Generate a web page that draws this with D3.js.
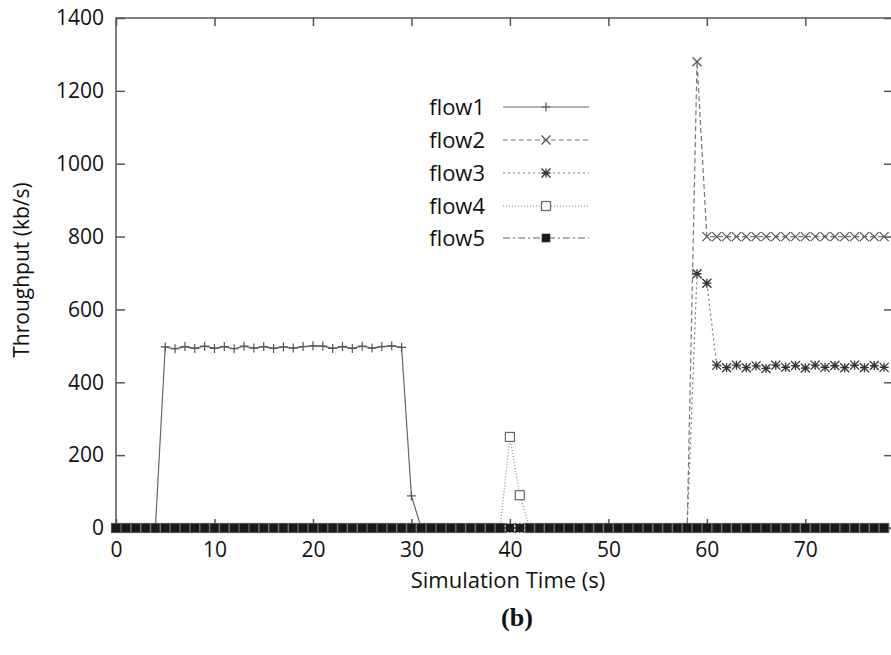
<!DOCTYPE html>
<html>
<head>
<meta charset="utf-8">
<script src="https://cdn.jsdelivr.net/npm/d3@7"></script>
<style>
body { margin: 0; background: #fff; }
text { font-family: "Open Sans", sans-serif; fill: #111; }
</style>
</head>
<body>
<script>
// simulation seconds 0..78
var times = [
  0, 1, 2, 3, 4, 5, 6, 7, 8, 9,
  10, 11, 12, 13, 14, 15, 16, 17, 18, 19,
  20, 21, 22, 23, 24, 25, 26, 27, 28, 29,
  30, 31, 32, 33, 34, 35, 36, 37, 38, 39,
  40, 41, 42, 43, 44, 45, 46, 47, 48, 49,
  50, 51, 52, 53, 54, 55, 56, 57, 58, 59,
  60, 61, 62, 63, 64, 65, 66, 67, 68, 69,
  70, 71, 72, 73, 74, 75, 76, 77, 78
];

var flow1 = [
  0, 0, 0, 0, 0, 497, 492, 498, 493, 499,
  493, 498, 492, 499, 494, 498, 493, 497, 494, 498,
  500, 499, 493, 498, 493, 499, 494, 498, 500, 496,
  88, 0, 0, 0, 0, 0, 0, 0, 0, 0,
  0, 0, 0, 0, 0, 0, 0, 0, 0, 0,
  0, 0, 0, 0, 0, 0, 0, 0, 0, 0,
  0, 0, 0, 0, 0, 0, 0, 0, 0, 0,
  0, 0, 0, 0, 0, 0, 0, 0, 0
];
var flow2 = [
  0, 0, 0, 0, 0, 0, 0, 0, 0, 0,
  0, 0, 0, 0, 0, 0, 0, 0, 0, 0,
  0, 0, 0, 0, 0, 0, 0, 0, 0, 0,
  0, 0, 0, 0, 0, 0, 0, 0, 0, 0,
  0, 0, 0, 0, 0, 0, 0, 0, 0, 0,
  0, 0, 0, 0, 0, 0, 0, 0, 0, 1280,
  800, 800, 800, 800, 800, 800, 800, 800, 800, 800,
  800, 800, 800, 800, 800, 800, 800, 800, 800
];
var flow3 = [
  0, 0, 0, 0, 0, 0, 0, 0, 0, 0,
  0, 0, 0, 0, 0, 0, 0, 0, 0, 0,
  0, 0, 0, 0, 0, 0, 0, 0, 0, 0,
  0, 0, 0, 0, 0, 0, 0, 0, 0, 0,
  0, 0, 0, 0, 0, 0, 0, 0, 0, 0,
  0, 0, 0, 0, 0, 0, 0, 0, 0, 698,
  672, 447, 440, 447, 440, 445, 438, 447, 441, 446,
  439, 447, 441, 446, 440, 447, 440, 446, 441
];
var flow4 = [
  0, 0, 0, 0, 0, 0, 0, 0, 0, 0,
  0, 0, 0, 0, 0, 0, 0, 0, 0, 0,
  0, 0, 0, 0, 0, 0, 0, 0, 0, 0,
  0, 0, 0, 0, 0, 0, 0, 0, 0, 0,
  250, 90, 0, 0, 0, 0, 0, 0, 0, 0,
  0, 0, 0, 0, 0, 0, 0, 0, 0, 0,
  0, 0, 0, 0, 0, 0, 0, 0, 0, 0,
  0, 0, 0, 0, 0, 0, 0, 0, 0
];
var flow5 = [
  0, 0, 0, 0, 0, 0, 0, 0, 0, 0,
  0, 0, 0, 0, 0, 0, 0, 0, 0, 0,
  0, 0, 0, 0, 0, 0, 0, 0, 0, 0,
  0, 0, 0, 0, 0, 0, 0, 0, 0, 0,
  0, 0, 0, 0, 0, 0, 0, 0, 0, 0,
  0, 0, 0, 0, 0, 0, 0, 0, 0, 0,
  0, 0, 0, 0, 0, 0, 0, 0, 0, 0,
  0, 0, 0, 0, 0, 0, 0, 0, 0
];

var seriesNames = ["flow1", "flow2", "flow3", "flow4", "flow5"];
var seriesValues = [flow1, flow2, flow3, flow4, flow5];
var xTicks = [0, 10, 20, 30, 40, 50, 60, 70];
var yTicks = [0, 200, 400, 600, 800, 1000, 1200, 1400];

var W = 891, H = 655;
// right frame edge sits just past the picture edge, as in the cropped original
var mL = 116, mR = 892, mT = 18, mB = 528;

var svg = d3.select("body").append("svg")
    .attr("width", W)
    .attr("height", H);

var x = d3.scaleLinear().domain([0, 78.8]).range([mL, mR]);
var y = d3.scaleLinear().domain([0, 1400]).range([mB, mT]);

// frame
svg.append("rect")
    .attr("x", mL).attr("y", mT)
    .attr("width", mR - mL).attr("height", mB - mT)
    .attr("fill", "none")
    .attr("stroke", "#555")
    .attr("stroke-width", 1.5);

function styleAxis(g) {
    g.select(".domain").remove();
    g.selectAll(".tick line").attr("stroke", "#555").attr("stroke-width", 1.5);
    g.selectAll(".tick text")
        .attr("fill", "#111")
        .style("font-family", "'Open Sans', sans-serif")
        .style("font-size", "21px");
}

svg.append("g")
    .attr("transform", "translate(0," + mB + ")")
    .call(d3.axisBottom(x).tickValues(xTicks).tickSize(-9).tickPadding(14))
    .call(styleAxis);

svg.append("g")
    .attr("transform", "translate(0," + mT + ")")
    .call(d3.axisTop(x).tickValues(xTicks).tickSize(-8).tickFormat(""))
    .call(styleAxis);

svg.append("g")
    .attr("transform", "translate(" + mL + ",0)")
    .call(d3.axisLeft(y).tickValues(yTicks).tickFormat(d3.format("d")).tickSize(-9).tickPadding(12))
    .call(styleAxis);

svg.append("g")
    .attr("transform", "translate(" + mR + ",0)")
    .call(d3.axisRight(y).tickValues(yTicks).tickSize(-8).tickFormat(""))
    .call(styleAxis);

// axis titles
svg.append("text")
    .attr("x", 508).attr("y", 588)
    .attr("text-anchor", "middle")
    .style("font-size", "22px")
    .text("Simulation Time (s)");

svg.append("text")
    .attr("transform", "translate(29,270) rotate(-90)")
    .attr("text-anchor", "middle")
    .style("font-size", "21px")
    .text("Throughput (kb/s)");

svg.append("text")
    .attr("x", 517).attr("y", 626)
    .attr("text-anchor", "middle")
    .style("font-family", "'Liberation Serif', serif")
    .style("font-weight", "bold")
    .style("font-size", "26px")
    .text("(b)");

// line and marker styles per flow
var dashes = ["none", "5,3", "2,3", "1,2", "7,3,2,3"];
var lineColors = ["#666", "#777", "#777", "#888", "#666"];

function drawMarker(g, k, cx, cy) {
    var s = 4.5;
    if (k === 0) {
        g.append("path").attr("d", "M" + (cx - s) + "," + cy + "H" + (cx + s) + "M" + cx + "," + (cy - s) + "V" + (cy + s))
            .attr("stroke", "#555").attr("stroke-width", 1.2).attr("fill", "none");
    } else if (k === 1) {
        g.append("path").attr("d", "M" + (cx - s) + "," + (cy - s) + "L" + (cx + s) + "," + (cy + s) + "M" + (cx - s) + "," + (cy + s) + "L" + (cx + s) + "," + (cy - s))
            .attr("stroke", "#555").attr("stroke-width", 1.2).attr("fill", "none");
    } else if (k === 2) {
        g.append("path").attr("d", "M" + (cx - s) + "," + (cy - s) + "L" + (cx + s) + "," + (cy + s) + "M" + (cx - s) + "," + (cy + s) + "L" + (cx + s) + "," + (cy - s) +
            "M" + (cx - s) + "," + cy + "H" + (cx + s) + "M" + cx + "," + (cy - s) + "V" + (cy + s))
            .attr("stroke", "#333").attr("stroke-width", 1.3).attr("fill", "none");
    } else if (k === 3) {
        g.append("rect").attr("x", cx - 4.5).attr("y", cy - 4.5).attr("width", 9).attr("height", 9)
            .attr("fill", "#fff").attr("stroke", "#666").attr("stroke-width", 1.2);
    } else {
        g.append("rect").attr("x", cx - 4.25).attr("y", cy - 4.25).attr("width", 8.5).attr("height", 8.5)
            .attr("fill", "#1a1a1a");
    }
}

var line = d3.line()
    .x(function(d) { return x(d[0]); })
    .y(function(d) { return y(d[1]); });

seriesValues.forEach(function(vals, k) {
    var pts = times.map(function(t, i) { return [t, vals[i]]; });
    var g = svg.append("g");
    g.append("path")
        .datum(pts)
        .attr("d", line)
        .attr("fill", "none")
        .attr("stroke", lineColors[k])
        .attr("stroke-width", 1.2)
        .attr("stroke-dasharray", dashes[k]);
    pts.forEach(function(p) {
        drawMarker(g, k, x(p[0]), y(p[1]));
    });
});

// legend
var legY = [107, 140, 173, 206, 238];
seriesNames.forEach(function(name, k) {
    var g = svg.append("g");
    g.append("text")
        .attr("x", 485).attr("y", legY[k] + 8)
        .attr("text-anchor", "end")
        .style("font-size", "22px")
        .text(name);
    g.append("line")
        .attr("x1", 503).attr("x2", 589)
        .attr("y1", legY[k]).attr("y2", legY[k])
        .attr("stroke", lineColors[k])
        .attr("stroke-width", 1.2)
        .attr("stroke-dasharray", dashes[k]);
    drawMarker(g, k, 546, legY[k]);
});
</script>
</body>
</html>
